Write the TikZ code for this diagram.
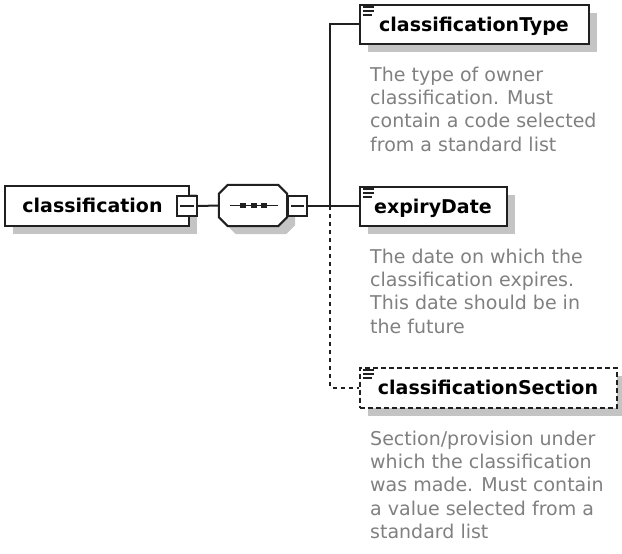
\documentclass[tikz,border=0pt]{standalone}
\usepackage{fontspec}
\setmainfont{DejaVu Sans}
\usetikzlibrary{shadows}
\definecolor{ln}{RGB}{32,32,32}
\definecolor{shd}{RGB}{196,196,196}
\definecolor{dsc}{RGB}{128,128,128}
\tikzset{
  lbl/.style={font=\fontsize{19}{23}\selectfont\bfseries},
  elem/.style={draw=ln, line width=2pt, fill=white, inner sep=0pt,
    text height=14pt, text depth=0pt, lbl,
    general shadow={fill=shd, shadow xshift=8pt, shadow yshift=-8pt}},
  optelem/.style={elem, dash pattern=on 5pt off 3pt},
  minusbox/.style={draw=ln, line width=1.8pt, fill=white, inner sep=0pt,
    minimum width=20pt, minimum height=20pt,
    path picture={\draw[ln, line width=1.6pt]
      ([xshift=3pt]path picture bounding box.west) --
      ([xshift=-3pt]path picture bounding box.east);}},
  conn/.style={draw=ln, line width=2pt},
  optconn/.style={conn, dash pattern=on 4pt off 4pt},
  desc/.style={anchor=base west, inner sep=0pt, text=dsc,
    font=\fontsize{19}{23}\selectfont},
  icon/.style={draw=ln, line width=1.6pt}
}
\begin{document}
\begin{tikzpicture}[x=1pt,y=-1pt]
\useasboundingbox (0,0) rectangle (622,554);

% root element
\node[elem, minimum width=184pt, minimum height=40pt] (cls) at (96.5,205.5)
  {\hspace*{-8pt}classification};
\node[minusbox] (clsm) at (187,206) {};

% sequence compositor
\node[minimum width=68pt, minimum height=41pt, inner sep=0pt] (seq) at (253,205.5) {};
\draw[conn, fill=white, general shadow={fill=shd, shadow xshift=8pt, shadow yshift=-8pt}]
  ([xshift=9pt]seq.north west) -- ([xshift=-9pt]seq.north east)
  -- ([yshift=-9pt]seq.north east) -- ([yshift=9pt]seq.south east)
  -- ([xshift=-9pt]seq.south east) -- ([xshift=9pt]seq.south west)
  -- ([yshift=9pt]seq.south west) -- ([yshift=-9pt]seq.north west) -- cycle;
\draw[conn, line width=1.6pt] ([xshift=11pt]seq.west) -- ([xshift=-9pt]seq.east);
\foreach \dx in {-10,1,11}
  \fill[ln] ([xshift=\dx pt]seq.center) ++(-2.6pt,-2.4pt) rectangle ++(5.2pt,4.8pt);
\node[minusbox, minimum width=19pt] (seqm) at (297.5,206) {};

% child elements
\node[elem, minimum width=229pt, minimum height=39pt] (ct) at (474,24) {classificationType};
\node[elem, minimum width=147pt, minimum height=39pt] (ed) at (433,206) {expiryDate};
\node[optelem, minimum width=257pt, minimum height=40pt] (cs) at (488,387.5) {classificationSection};

\foreach \n in {ct,ed,cs} {
  \draw[icon] ([xshift=4pt,yshift=-3.5pt]\n.north west) -- ++(11pt,0pt);
  \draw[icon] ([xshift=4pt,yshift=-7.5pt]\n.north west) -- ++(11pt,0pt);
  \draw[icon] ([xshift=4pt,yshift=-11.5pt]\n.north west) -- ++(9pt,0pt);
}

% connectors
\coordinate (j) at (330,206);
\draw[conn] (clsm.east) -- (seq.west);
\draw[conn] (seqm.east) -- (j);
\draw[conn] (j) |- (ct.west);
\draw[conn] (j) -- (ed.west);
\draw[optconn] (j) |- (cs.west);

% descriptions
\foreach \t [count=\i] in {The type of owner, classification. Must, contain a code selected, from a standard list}
  \node[desc] (ctd\i) at (370,{81+23.4*(\i-1)}) {\t};
\foreach \t [count=\i] in {The date on which the, classification expires., This date should be in, the future}
  \node[desc] (edd\i) at (370,{263+23.4*(\i-1)}) {\t};
\foreach \t [count=\i] in {Section/provision under, which the classification, was made. Must contain, a value selected from a, standard list}
  \node[desc] (csd\i) at (370,{445+23.4*(\i-1)}) {\t};
\end{tikzpicture}
\end{document}
